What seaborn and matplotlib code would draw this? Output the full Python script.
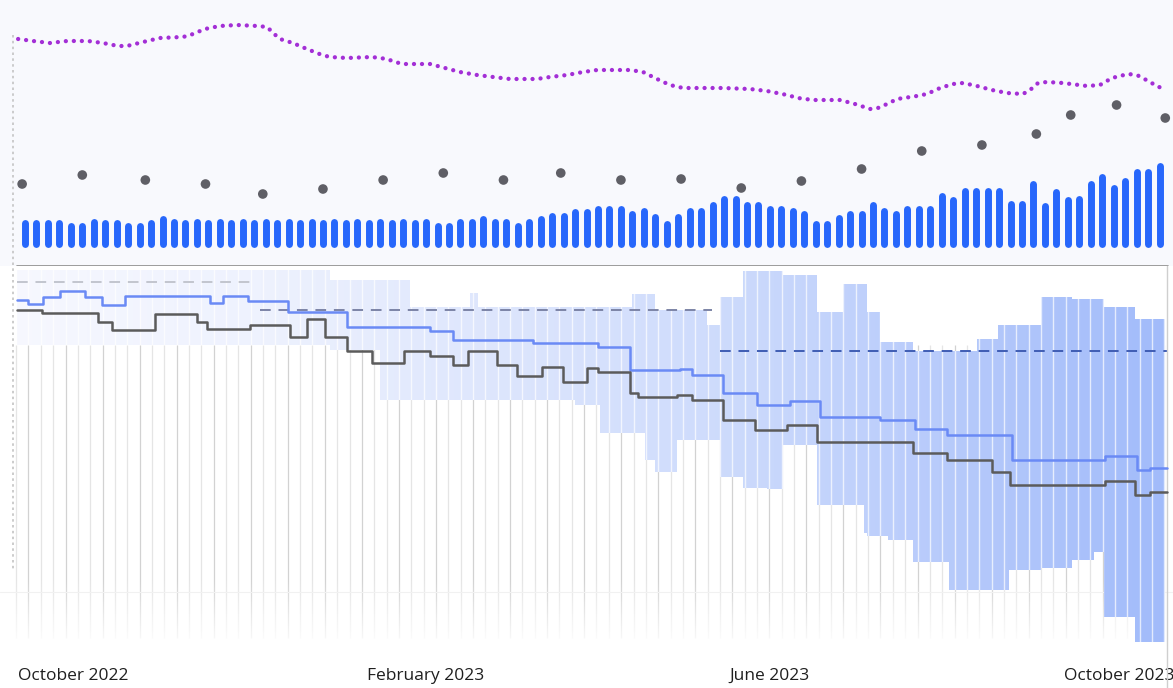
import numpy as np
import pandas as pd
import seaborn as sns
import matplotlib.pyplot as plt
from matplotlib.lines import Line2D
from matplotlib.colors import LinearSegmentedColormap

# x values are days since this date
start = pd.Timestamp("2022-09-14")

# top panel: bars every 4 days
bar_values = [28, 28, 28, 28, 25, 25, 29, 28, 28, 25, 25, 28, 32, 29, 28, 29, 28, 29, 28, 29, 28, 29, 28, 29, 28,
              29, 28, 29, 28, 29, 28, 29, 28, 29, 28, 29, 25, 25, 29, 29, 32, 29, 29, 25, 29, 32, 35, 35, 39,
              39, 42, 42, 42, 37, 40, 34, 27, 34, 40, 40, 46, 52, 52, 46, 46, 42, 42, 40, 37, 27, 27, 33, 37, 37,
              46, 40, 37, 42, 42, 42, 55, 51, 60, 60, 60, 60, 47, 47, 67, 45, 59, 51, 52, 67, 74, 63, 70, 79, 79, 85]
bar_step = 4

dot_days = [-1, 20, 42, 63, 83, 104, 125, 146, 167, 187, 208, 229, 250, 271, 292, 313, 334, 353, 365, 381, 398]
dot_values = [63, 72, 67, 63, 53, 58, 67, 74, 67, 74, 67, 68, 59, 66, 78, 96, 102, 113, 132, 142, 129]

trend_days = [-2.4, 2.8, 8.7, 14.7, 22, 27.2, 32.5, 35.6, 41.2, 47.1, 54.8, 56.9, 62.8, 68, 74, 81.3, 84.5,
              87, 89, 93.5, 98.4, 103.7, 106.5, 112.4, 121.1, 126.4, 129.1, 132, 141.4, 146.6, 151.8, 157.8,
              163.4, 169.3, 178.7, 183.2, 189.2, 194.8, 199.7, 211.2, 215.7, 220.6, 225.1, 229.7, 243.6, 253,
              259, 266, 269.8, 275, 284.5, 289.7, 295, 297.7, 300.9, 304.4, 311.3, 314.8, 319.4, 323.9, 327.4,
              332.3, 337.5, 342.8, 348.3, 350.8, 353.6, 356.7, 362.3, 370.7, 375.2, 379.4, 385, 388.1, 392.7,
              395.5, 398.6]
trend_values = [208, 206, 204, 206, 206, 204, 201, 201, 205, 209, 210, 211, 218, 221, 222, 221, 220,
                213, 208, 204, 198, 192, 190, 189, 190, 188, 185, 183, 183, 179, 175, 172,
                170, 168, 168, 170, 172, 175, 177, 177, 175, 168, 162, 159, 159, 158,
                156, 152, 149, 147, 147, 143, 138, 139, 143, 148, 151, 153, 159, 163, 164,
                161, 157, 154, 153, 157, 164, 165, 164, 161, 162, 169, 173, 172, 165,
                160, 159]

# bottom panel (ranking style, smaller is higher)
blue_days = [-2.8, 1.0, 6.3, 12.2, 20.9, 26.9, 34.9, 64.6, 69.1, 77.8, 91.8, 112.4, 141.4, 149.4, 177.3,
             200, 211.2, 228.6, 232.8, 243.6, 255.5, 267, 277.5, 298.4, 310.6, 321.8, 344.5, 377, 388.1,
             392.7, 398.6]
blue_values = [34, 38, 31, 25, 31, 39, 30, 37, 30, 35, 46, 61, 65, 74, 77,
               81, 104, 103, 109, 127, 139, 135, 151, 154, 163, 169, 194, 190, 204,
               202, 202]

gray_days = [-2.8, 5.9, 25.5, 30.4, 45.4, 60, 63.5, 78.5, 92.5, 98.4, 104.7, 112.4, 121.1, 132.3, 141.4,
             149.4, 154.6, 164.7, 171.7, 180.5, 187.8, 196.2, 200, 211.2, 214, 227.6, 232.8, 243.6, 254.8,
             266, 276.4, 309.9, 321.8, 337.5, 343.8, 377, 387.4, 392.7, 398.6]
gray_values = [44, 47, 56, 64, 48, 56, 63, 59, 71, 53, 71, 85, 97, 85, 90,
               99, 85, 99, 110, 101, 116, 102, 106, 127, 131, 129, 134, 154, 164,
               159, 176, 187, 194, 206, 219, 215, 229, 226, 226]

band_days = [-2.8, 106.5, 123.9, 134.4, 155.3, 158.1, 192, 200.7, 211.9, 216.4, 219.9, 227.6, 238, 242.6,
             250.6, 259, 264.6, 276.4, 285.5, 292.8, 294, 298.4, 301.2, 309.9, 322.5, 332.3, 339.6, 343.5,
             354.5, 365.4, 373.1, 376.5, 387.6, 398]
band_high = [4, 14, 14, 41, 27, 41, 41, 41, 28, 28, 44, 44, 59, 31,
             5, 5, 9, 46, 18, 18, 46, 76, 76, 85, 85, 73, 59, 59,
             31, 33, 33, 41, 53]
band_low = [79, 84, 134, 134, 134, 134, 139, 167, 167, 194, 206, 174, 174, 211,
            222, 223, 179, 239, 239, 267, 270, 270, 274, 296, 324, 324, 324, 304,
            302, 294, 286, 351, 376]

# dashed reference levels: start day, end day, value
ref_start = [-2.8, 82, 242.6]
ref_end = [79.6, 239.8, 398.6]
ref_value = [16, 44, 85]
ref_colors = ["#c2c5ce", "#7c84a6", "#3f5db4"]

month_labels = ["October 2022", "February 2023", "June 2023", "October 2023"]
month_dates = ["2022-10-01", "2023-02-01", "2023-06-01", "2023-10-01"]

# ---------------------------------------------------------------
sns.set_theme(style="white")
plt.rcParams['font.family'] = ['Open Sans', 'DejaVu Sans']

fig = plt.figure(figsize=(11.73, 6.88), dpi=100)
fig.patch.set_facecolor("white")
ax_top = fig.add_axes([0, 1 - 266 / 688, 1, 266 / 688])
ax_bot = fig.add_axes([0, 38 / 688, 1, 384 / 688])
x_lo, x_hi = -25 / 2.865, (1173 - 25) / 2.865

# --- top panel
ax_top.set_facecolor("#f8f9fd")
bar_days = np.arange(len(bar_values)) * bar_step
bars = np.array(bar_values, dtype=float)
ax_top.vlines(bar_days, 3.5, bars - 3.5, color="#2767fb", lw=5.0, capstyle="round", zorder=3)

sns.scatterplot(x=dot_days, y=dot_values, ax=ax_top, color="#5f5f66", s=48, edgecolor="none", zorder=4)

sns.lineplot(x=trend_days, y=trend_values, ax=ax_top, color="#a32fd6", lw=3.1,
             linestyle=(0, (0.01, 1.85)), dash_capstyle="round", zorder=4)

ax_top.axhline(-18.5, xmin=17 / 1173, xmax=1168 / 1173, color="#8c8c8c", lw=1.2, clip_on=False, zorder=5)
ax_top.set_xlim(x_lo, x_hi)
ax_top.set_ylim(-19, 247)
for sp in ax_top.spines.values():
    sp.set_visible(False)
ax_top.set_xticks([])
ax_top.set_yticks([])

# --- bottom panel
grid_days = np.arange(-3.1, 399, 4.31)
grid_alpha = np.where(np.arange(len(grid_days)) % 3 == 1, 0.38, 0.22)
for gx, ga in zip(grid_days, grid_alpha):
    ax_bot.vlines(gx, 79, 372, color="#8a8a8a", lw=0.9, alpha=ga, zorder=1)
ax_bot.axhline(326, color="#eeeeee", lw=0.8, zorder=1)

# fade lines out at the bottom
fade = np.ones((64, 1, 4))
fade[:, 0, 3] = np.linspace(0, 1, 64)
ax_bot.imshow(fade, extent=(x_lo, x_hi, 384, 312), aspect="auto", zorder=2, interpolation="bilinear")

# band with horizontal gradient
bx = list(band_days)
hi = list(band_high) + [band_high[-1]]
lo = list(band_low) + [band_low[-1]]
poly = ax_bot.fill_between(bx, lo, hi, step="post", facecolor="none", edgecolor="none")
band_path = poly.get_paths()[0]
cmap = LinearSegmentedColormap.from_list(
    "band", [(0, "#f7f8fe"), (0.22, "#eef2fe"), (0.4, "#dfe7fd"), (0.6, "#cfdcfc"),
             (0.8, "#b8cbfb"), (1, "#a1bbfa")])
grad = np.linspace(0, 1, 256).reshape(1, -1)
im = ax_bot.imshow(grad, extent=(x_lo, x_hi, 384, 0), aspect="auto", cmap=cmap, zorder=3)
im.set_clip_path(band_path, ax_bot.transData)

gaps = ax_bot.vlines(grid_days, 0, 384, color="white", lw=1.0, alpha=0.7, zorder=4)
gaps.set_clip_path(band_path, ax_bot.transData)

for s, e, v, c in zip(ref_start, ref_end, ref_value, ref_colors):
    ax_bot.hlines(v, s, e, color=c, lw=1.4, linestyles=(0, (5.5, 4)), zorder=5)

sns.lineplot(x=blue_days, y=blue_values, ax=ax_bot, color="#6a8af5", lw=1.8,
             drawstyle="steps-post", zorder=6)
sns.lineplot(x=gray_days, y=gray_values, ax=ax_bot, color="#5b5b5b", lw=1.8,
             drawstyle="steps-post", zorder=7)

ax_bot.axvline(398.6, ymin=-0.1, ymax=1, color="#cfcfcf", lw=1.0, clip_on=False, zorder=5)

ax_bot.set_xlim(x_lo, x_hi)
ax_bot.set_ylim(384, 0)
for sp in ax_bot.spines.values():
    sp.set_visible(False)
ax_bot.set_yticks([])
tick_days = [(pd.Timestamp(d) - start).days for d in month_dates]
ax_bot.set_xticks(tick_days, month_labels)
ax_bot.tick_params(axis="x", length=0, pad=13, labelsize=12.5, labelcolor="#1f1f1f")
ax_bot.set_xlabel("")
ax_bot.set_ylabel("")

# dotted marker on the left edge
fig.add_artist(Line2D([13 / 1173, 13 / 1173], [1 - 35 / 688, 1 - 570 / 688], transform=fig.transFigure,
                      color="#c4c4c4", lw=1.2, ls=(0, (1.5, 2))))

fig.savefig("out.png", dpi=100)
